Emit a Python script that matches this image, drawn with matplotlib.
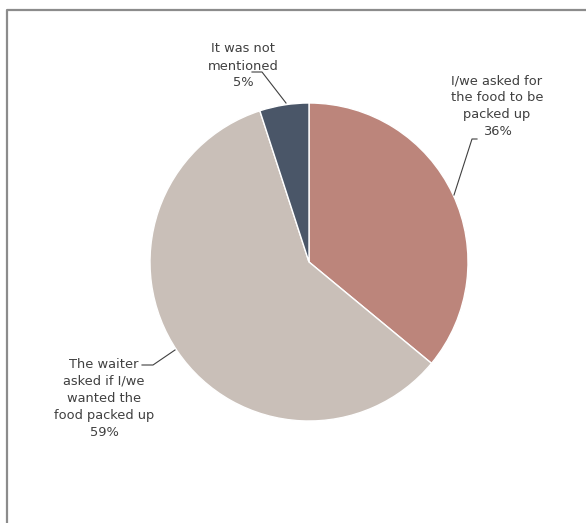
import matplotlib.pyplot as plt

labels = ["I/we asked for\nthe food to be\npacked up", "The waiter\nasked if I/we\nwanted the\nfood packed up", "It was not\nmentioned"]
values = [36, 59, 5]
colors = ["#BC857B", "#C9BFB8", "#4A5668"]

# label text centres and leader line points (pixel coords, y from bottom)
text_pos = [(497, 417), (104, 125), (243, 457)]
leaders = [
    [(477, 384), (472, 384), (454, 328)],
    [(142, 158), (153, 158), (175, 173)],
    [(252, 451), (262, 451), (286, 420)],
]

fig = plt.figure(figsize=(5.86, 5.23), dpi=100)
ax = fig.add_axes([0, 0, 1, 1])

# chart frame (right and bottom are cut off)
ax.plot([7, 7, 586], [0, 513, 513], color='#8c8c8c', lw=1.6)

ax.pie(values, colors=colors, startangle=90, counterclock=False,
       center=(309, 261), radius=159, frame=True,
       wedgeprops=dict(edgecolor='white', linewidth=1))
ax.set_xlim(0, 586)
ax.set_ylim(0, 523)
ax.set_aspect('equal')
ax.axis('off')

for lab, v, (x, y), pts in zip(labels, values, text_pos, leaders):
    ax.text(x, y, f"{lab}\n{v}%", ha='center', va='center', fontsize=9.4,
            color='#404040', linespacing=1.4, family='DejaVu Sans')
    xs, ys = zip(*pts)
    ax.plot(xs, ys, color='#404040', lw=0.8)

fig.savefig('out.png', dpi=100)
